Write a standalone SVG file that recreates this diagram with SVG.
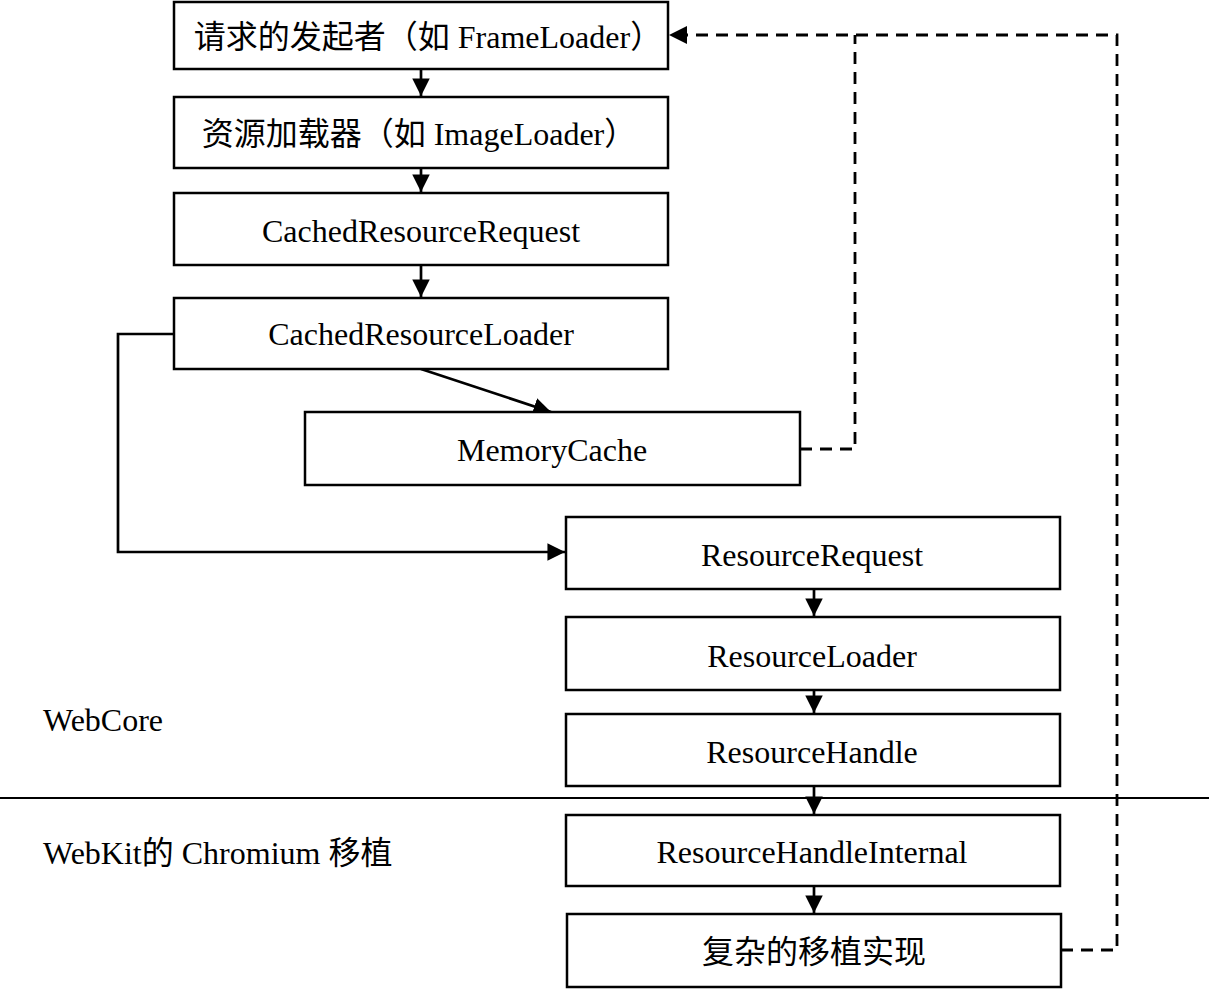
<svg xmlns="http://www.w3.org/2000/svg" width="1209" height="989" viewBox="0 0 1209 989">
<style>
.box{fill:#fff;stroke:#000;stroke-width:2.5}
.t{font-family:"Liberation Serif","Noto Sans CJK SC",serif;font-size:32px;fill:#000;text-anchor:middle}
.l{font-family:"Liberation Serif","Noto Sans CJK SC",serif;font-size:32px;fill:#000}
.c{fill:none;stroke:#000;stroke-width:2.7}
.d{fill:none;stroke:#000;stroke-width:2.8;stroke-dasharray:12,8}
</style>
<defs>
<marker id="ah" viewBox="0 0 10 10" refX="10" refY="5" markerWidth="6.5" markerHeight="6.5" orient="auto" markerUnits="strokeWidth">
<path d="M0,0 L10,5 L0,10 z" fill="#000"/>
</marker>
</defs>
<rect width="1209" height="989" fill="#fff"/>
<g id="connectors">
<line class="c" x1="421" y1="69" x2="421" y2="96" marker-end="url(#ah)"/>
<line class="c" x1="421" y1="168" x2="421" y2="192" marker-end="url(#ah)"/>
<line class="c" x1="421" y1="265" x2="421" y2="297" marker-end="url(#ah)"/>
<line class="c" x1="421" y1="369" x2="551" y2="412" marker-end="url(#ah)"/>
<polyline class="c" points="174,334 118,334 118,552 565,552" marker-end="url(#ah)"/>
<line class="c" x1="814" y1="589" x2="814" y2="616" marker-end="url(#ah)"/>
<line class="c" x1="814" y1="690" x2="814" y2="713" marker-end="url(#ah)"/>
<line class="c" x1="814" y1="786" x2="814" y2="814" marker-end="url(#ah)"/>
<line class="c" x1="814" y1="886" x2="814" y2="913" marker-end="url(#ah)"/>
<polyline class="d" points="800,449 855,449 855,35"/>
<polyline class="d" points="1061,950 1117,950 1117,35 669,35" marker-end="url(#ah)"/>
<line x1="0" y1="798" x2="1209" y2="798" stroke="#000" stroke-width="2"/>
</g>
<g id="n1"><rect class="box" x="174" y="2" width="494" height="67"/><text class="t" x="428" y="48">请求的发起者（如 FrameLoader）</text></g>
<g id="n2"><rect class="box" x="174" y="97" width="494" height="71"/><text class="t" x="419" y="145">资源加载器（如 ImageLoader）</text></g>
<g id="n3"><rect class="box" x="174" y="193" width="494" height="72"/><text class="t" x="421" y="242">CachedResourceRequest</text></g>
<g id="n4"><rect class="box" x="174" y="298" width="494" height="71"/><text class="t" x="421" y="345">CachedResourceLoader</text></g>
<g id="n5"><rect class="box" x="305" y="412" width="495" height="73"/><text class="t" x="552" y="461">MemoryCache</text></g>
<g id="n6"><rect class="box" x="566" y="517" width="494" height="72"/><text class="t" x="812" y="566">ResourceRequest</text></g>
<g id="n7"><rect class="box" x="566" y="617" width="494" height="73"/><text class="t" x="812" y="667">ResourceLoader</text></g>
<g id="n8"><rect class="box" x="566" y="714" width="494" height="72"/><text class="t" x="812" y="763">ResourceHandle</text></g>
<g id="n9"><rect class="box" x="566" y="815" width="494" height="71"/><text class="t" x="812" y="863">ResourceHandleInternal</text></g>
<g id="n10"><rect class="box" x="567" y="914" width="494" height="73"/><text class="t" x="814" y="963">复杂的移植实现</text></g>
<g id="labels">
<text class="l" x="43" y="731">WebCore</text>
<text class="l" x="43" y="864">WebKit的 Chromium 移植</text>
</g>
</svg>
